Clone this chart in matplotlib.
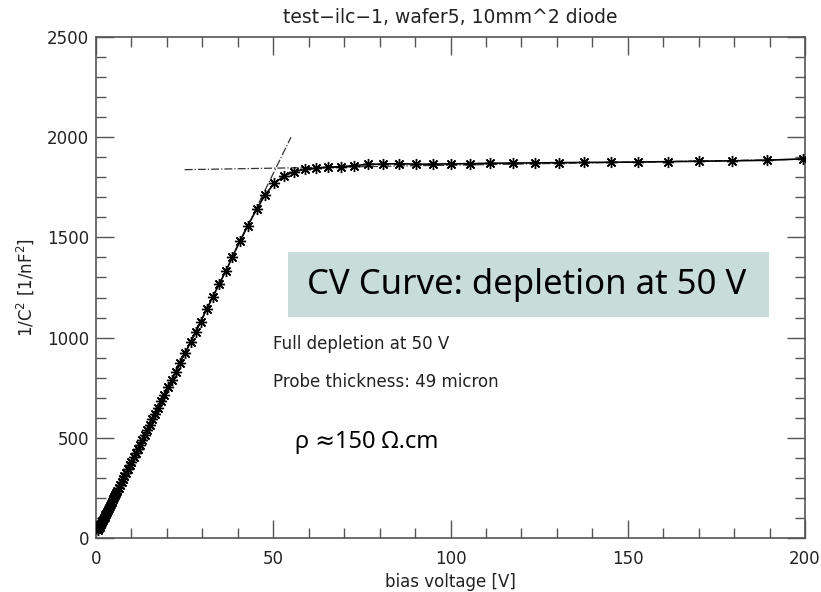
import matplotlib.pyplot as plt
import matplotlib.patches as patches
from matplotlib.ticker import MultipleLocator

bias_v = [0.6, 0.8, 1.0, 1.2, 1.4, 1.6, 1.8, 2.0, 2.2, 2.4, 2.6, 2.8, 3.0,
          3.3, 3.6, 3.9, 4.2, 4.5, 4.8, 5.1, 5.4, 5.7, 6.0, 6.4, 6.8, 7.2,
          7.6, 8.0, 8.5, 9.0, 9.5, 10.0, 10.6, 11.2, 11.8, 12.4, 13.0, 13.7,
          14.4, 15.1, 15.9, 16.7, 17.5, 18.4, 19.3, 20.3, 21.3, 22.5, 23.7,
          25.1, 26.7, 28.1, 29.5, 31.2, 32.9, 34.7, 36.7, 38.5, 40.6, 42.8,
          45.3, 47.7, 50.3, 53.0, 55.9, 59.0, 62.1, 65.5, 69.1, 72.9, 76.8,
          81.0, 85.6, 90.3, 95.1, 100.1, 105.5, 111.1, 117.5, 123.8, 130.6,
          137.6, 145.2, 152.9, 161.4, 170.1, 179.4, 189.3, 199.4]
inv_c2 = [42, 49, 56, 63, 70, 78, 85, 92, 99, 106, 114, 121, 128,
          139, 150, 160, 171, 182, 193, 204, 214, 225, 236, 250, 265, 279,
          294, 308, 326, 344, 362, 380, 402, 423, 445, 466, 488, 513,
          538, 564, 592, 621, 650, 682, 715, 751, 787, 830, 874,
          924, 976, 1026, 1079, 1141, 1201, 1266, 1334, 1404, 1482, 1557,
          1640, 1712, 1770, 1806, 1828, 1840, 1845, 1850, 1853, 1858, 1865,
          1866, 1868, 1865, 1866, 1867, 1868, 1870, 1871, 1872, 1873,
          1874, 1875, 1876, 1878, 1880, 1882, 1885, 1892]

# 피팅 직선 양 끝점
fit_rise_v = [0, 55]
fit_rise_y = [10, 2000]
fit_flat_v = [25, 200]
fit_flat_y = [1838, 1890]

fig = plt.figure(figsize=(8.21, 5.92), dpi=100)
ax = fig.add_axes([96 / 821, 1 - 538 / 592, 709 / 821, 501 / 592])

ax.plot(bias_v, inv_c2, color='black', linewidth=1.2, marker=(8, 2, 0),
        markersize=8, markeredgewidth=1.0, zorder=3)
ax.plot(fit_rise_v, fit_rise_y, color='#333333', linewidth=0.9,
        linestyle='-.', zorder=2)
ax.plot(fit_flat_v, fit_flat_y, color='#333333', linewidth=0.9,
        linestyle='-.', zorder=2)

ax.set_xlim(0, 200)
ax.set_ylim(0, 2500)
ax.xaxis.set_major_locator(MultipleLocator(50))
ax.xaxis.set_minor_locator(MultipleLocator(10))
ax.yaxis.set_major_locator(MultipleLocator(500))
ax.yaxis.set_minor_locator(MultipleLocator(100))
ax.tick_params(which='both', direction='in', top=True, right=True,
               colors='#555555', labelcolor='#222222', labelsize=12, width=1)
ax.tick_params(which='major', length=13)
ax.tick_params(which='minor', length=7)
ax.tick_params(axis='x', pad=9)
ax.tick_params(axis='y', pad=5)
for sp in ax.spines.values():
    sp.set_color('#555555')
    sp.set_linewidth(1.2)

ax.set_title('test\u2212ilc\u22121, wafer5, 10mm^2 diode', fontsize=13.5,
             color='#222222', pad=10)
ax.set_xlabel('bias voltage [V]', fontsize=12, color='#222222', labelpad=3)
ax.set_ylabel('1/C$^2$ [1/nF$^2$]', fontsize=12, color='#222222', labelpad=8)

ax.text(50, 968, 'Full depletion at 50 V', fontsize=12, color='#222222',
        va='center')
ax.text(50, 778, 'Probe thickness: 49 micron', fontsize=12, color='#222222',
        va='center')
ax.text(56, 479, '\u03c1 \u2248150 \u03a9.cm', fontsize=17, color='black',
        va='center', family=['Noto Sans', 'DejaVu Sans'])

# 강조 박스
box = patches.Rectangle((288 / 821, 1 - 317 / 592), 481 / 821, 65 / 592,
                        transform=fig.transFigure, facecolor='#c8dcd9',
                        edgecolor='none', zorder=5)
fig.patches.append(box)
fig.text(527 / 821, 1 - 285 / 592, 'CV Curve: depletion at 50 V',
         fontsize=25, color='black', ha='center', va='center',
         family='Noto Sans', zorder=6)

fig.savefig('out.png', dpi=100)
